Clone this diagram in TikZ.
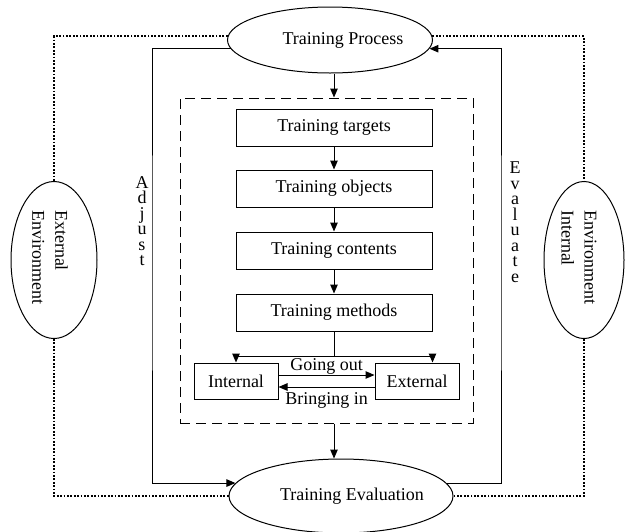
\documentclass[tikz,border=0pt]{standalone}
\usepackage{fontspec}
\setmainfont{Liberation Serif}
\usetikzlibrary{arrows.meta,positioning,shapes.geometric}

\begin{document}
\begin{tikzpicture}[x=1pt,y=-1pt,
  font=\fontsize{18}{21}\selectfont,
  arr/.style={line width=1pt,-{Triangle[length=9pt,width=7.5pt]}},
  link/.style={line width=1pt},
  env/.style={line width=1.9pt,dash pattern=on 1.8pt off 1.6pt},
  stage/.style={draw,line width=1pt,minimum width=196pt,minimum height=37pt,inner sep=0pt},
  side/.style={draw,line width=1pt,minimum width=84pt,minimum height=36pt,inner sep=0pt},
  oval/.style={draw,ellipse,line width=1pt,inner sep=0pt},
  envtext/.style={rotate=-90,align=left,font=\fontsize{18}{23}\selectfont},
  stack/.style={align=center,font=\fontsize{18}{15.5}\selectfont}]
  \useasboundingbox (0,0) rectangle (626,531);

  \node[draw,line width=1pt,dash pattern=on 10pt off 6pt,minimum width=293pt,minimum height=325pt,inner sep=0pt] (frame) at (326.5,260.5) {};

  \node[stage] (targets) at (334,127.5) {Training targets};
  \node[stage,below=23pt of targets] (objects) {Training objects};
  \node[stage,below=24pt of objects] (contents) {Training contents};
  \node[stage,below=24pt of contents] (methods) {Training methods};
  \foreach \a/\b in {targets/objects,objects/contents,contents/methods}
    \draw[arr] (\a) -- (\b);

  \node[side] (inner) at (236,381) {Internal};
  \node[side] (outer) at (417,381) {External};
  \coordinate (split) at ([yshift=-25pt]methods.south);
  \draw[link] (methods) -- (split);
  \draw[arr] (split) -| (inner.north);
  \draw[arr] (split) -| (outer.north -| methods.east);
  \draw[arr] ([yshift=6pt]inner.east) -- node[above,inner sep=0pt] {Going out} ([yshift=6pt]outer.west);
  \draw[arr] ([yshift=-6pt]outer.west) -- node[below=5pt,inner sep=0pt] {Bringing in} ([yshift=-6pt]inner.east);

  \node[oval,minimum width=205pt,minimum height=66pt] (process) at (330,40) {};
  \node (processtext) at ([xshift=13pt]process) {Training Process};
  \node[oval,minimum width=224pt,minimum height=74pt] (evaluation) at (341,496) {};
  \node (evaluationtext) at ([xshift=11pt]evaluation) {Training Evaluation};
  \node[oval,minimum width=86pt,minimum height=157pt] (extenv) at (54,260) {};
  \node[envtext] (extenvtext) at (50,257) {External\\Environment};
  \node[oval,minimum width=80pt,minimum height=157pt] (intenv) at (584,260) {};
  \node[envtext] (intenvtext) at (579,257) {Environment\\Internal};

  \draw[arr] (process.south -| targets) -- (targets |- frame.north);
  \draw[arr] (frame.south -| methods) -- (evaluation.north -| methods);

  \coordinate (adjline) at (152,260);
  \coordinate (evaline) at (501,260);
  \draw[arr] (process.185) -| (adjline) |- (evaluation.173);
  \draw[arr] (evaluation.7) -| (evaline) |- (process.355);
  \node[stack] (adjust) at (142,221) {A\\d\\j\\u\\s\\t};
  \node[stack] (evaluate) at (515,222) {E\\v\\a\\l\\u\\a\\t\\e};

  \draw[env] (process.178) -| (extenv.north);
  \draw[env] (extenv.south) |- (evaluation.west);
  \draw[env] (process.2) -| (intenv.north);
  \draw[env] (intenv.south) |- (evaluation.east);
\end{tikzpicture}
\end{document}
